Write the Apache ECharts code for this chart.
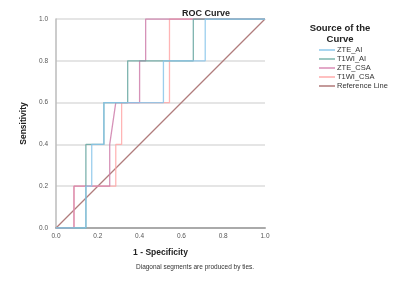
<!DOCTYPE html>
<html><head><meta charset="utf-8">
<script src="https://cdn.jsdelivr.net/npm/echarts@6/dist/echarts.min.js"></script>
<style>html,body{margin:0;padding:0;background:#fff}#c{width:400px;height:287px}</style>
</head><body><div id="c"></div>
<script>
const seriesNames = ['ZTE_AI', 'T1WI_AI', 'ZTE_CSA', 'T1WI_CSA', 'Reference Line'];
const zteAiX = [0, 0.143, 0.143, 0.171, 0.171, 0.229, 0.229, 0.514, 0.514, 0.714, 0.714, 1];
const zteAiY = [0, 0, 0.2, 0.2, 0.4, 0.4, 0.6, 0.6, 0.8, 0.8, 1, 1];
const t1wiAiX = [0, 0.143, 0.143, 0.229, 0.229, 0.343, 0.343, 0.657, 0.657, 1];
const t1wiAiY = [0, 0, 0.4, 0.4, 0.6, 0.6, 0.8, 0.8, 1, 1];
const zteCsaX = [0, 0.086, 0.086, 0.257, 0.257, 0.286, 0.4, 0.4, 0.429, 0.429, 1];
const zteCsaY = [0, 0, 0.2, 0.2, 0.4, 0.6, 0.6, 0.8, 0.8, 1, 1];
const t1wiCsaX = [0, 0.086, 0.086, 0.286, 0.286, 0.314, 0.314, 0.543, 0.543, 1];
const t1wiCsaY = [0, 0, 0.2, 0.2, 0.4, 0.4, 0.6, 0.6, 1, 1];
const refX = [0, 1];
const refY = [0, 1];
const tickValues = [0, 0.2, 0.4, 0.6, 0.8, 1.0];

const colors = ['#8ac6ea', '#66a6a0', '#cf7fab', '#ffa8a8', '#b07c7c'];
const legendColors = ['#a9d6f0', '#9cc8c2', '#e3a9c8', '#ffc0c0', '#c49a9a'];
const xs = [zteAiX, t1wiAiX, zteCsaX, t1wiCsaX, refX];
const ys = [zteAiY, t1wiAiY, zteCsaY, t1wiCsaY, refY];
const pair = (x, y) => x.map((v, i) => [v, y[i]]);

const chart = echarts.init(document.getElementById('c'), null, {renderer: 'canvas'});
chart.setOption({
  animation: false,
  backgroundColor: '#fff',
  title: [
    {text: 'ROC Curve', left: 201, top: 4, textAlign: 'center',
     textStyle: {fontSize: 9, fontWeight: 'bold', color: '#222', fontFamily: 'Liberation Sans'}},
    {text: 'Source of the\nCurve', left: 335, top: 18, textAlign: 'center',
     textStyle: {fontSize: 9.5, fontWeight: 'bold', color: '#222', lineHeight: 11, fontFamily: 'Liberation Sans'}}
  ],
  legend: {
    orient: 'vertical', left: 314, top: 41, itemWidth: 16, itemHeight: 2, itemGap: 1,
    icon: 'rect',
    data: seriesNames.map((n, i) => ({name: n, icon: 'rect',
      itemStyle: {color: legendColors[i], borderWidth: 0},
      lineStyle: {color: legendColors[i]}})),
    textStyle: {fontSize: 7.5, color: '#333', fontFamily: 'Liberation Sans', padding: [0, 0, 0, -3]}
  },
  grid: {left: 56, right: 135, top: 19, bottom: 59},
  xAxis: {
    type: 'value', min: 0, max: 1, interval: 0.2,
    name: '1 - Specificity', nameLocation: 'middle', nameGap: 20,
    nameTextStyle: {fontSize: 8.5, fontWeight: 'bold', color: '#222', fontFamily: 'Liberation Sans'},
    axisLine: {show: true, lineStyle: {color: '#aaa', width: 2}},
    axisTick: {show: false},
    splitLine: {show: false},
    axisLabel: {fontSize: 6.5, color: '#555', margin: 5, formatter: v => v.toFixed(1), fontFamily: 'Liberation Sans'}
  },
  yAxis: {
    type: 'value', min: 0, max: 1, interval: 0.2,
    name: 'Sensitivity', nameLocation: 'middle', nameGap: 22,
    nameTextStyle: {fontSize: 8.5, fontWeight: 'bold', color: '#222', fontFamily: 'Liberation Sans'},
    axisLine: {show: true, lineStyle: {color: '#bbb', width: 1.5}},
    axisTick: {show: false},
    splitLine: {show: true, lineStyle: {color: '#ddd', width: 1.5}},
    axisLabel: {fontSize: 6.5, color: '#555', margin: 8, formatter: v => v.toFixed(1), fontFamily: 'Liberation Sans'}
  },
  graphic: [{
    type: 'text', left: 136, top: 264,
    style: {text: 'Diagonal segments are produced by ties.', fontSize: 6.5, fill: '#333', fontFamily: 'Liberation Sans'}
  }],
  series: seriesNames.map((n, i) => ({
    name: n, type: 'line', data: pair(xs[i], ys[i]), showSymbol: false, symbol: 'none',
    lineStyle: {color: colors[i], width: 1.3, opacity: i === 4 ? 1 : 0.85},
    itemStyle: {color: legendColors[i]},
    z: 5 - i
  }))
});
</script></body></html>
